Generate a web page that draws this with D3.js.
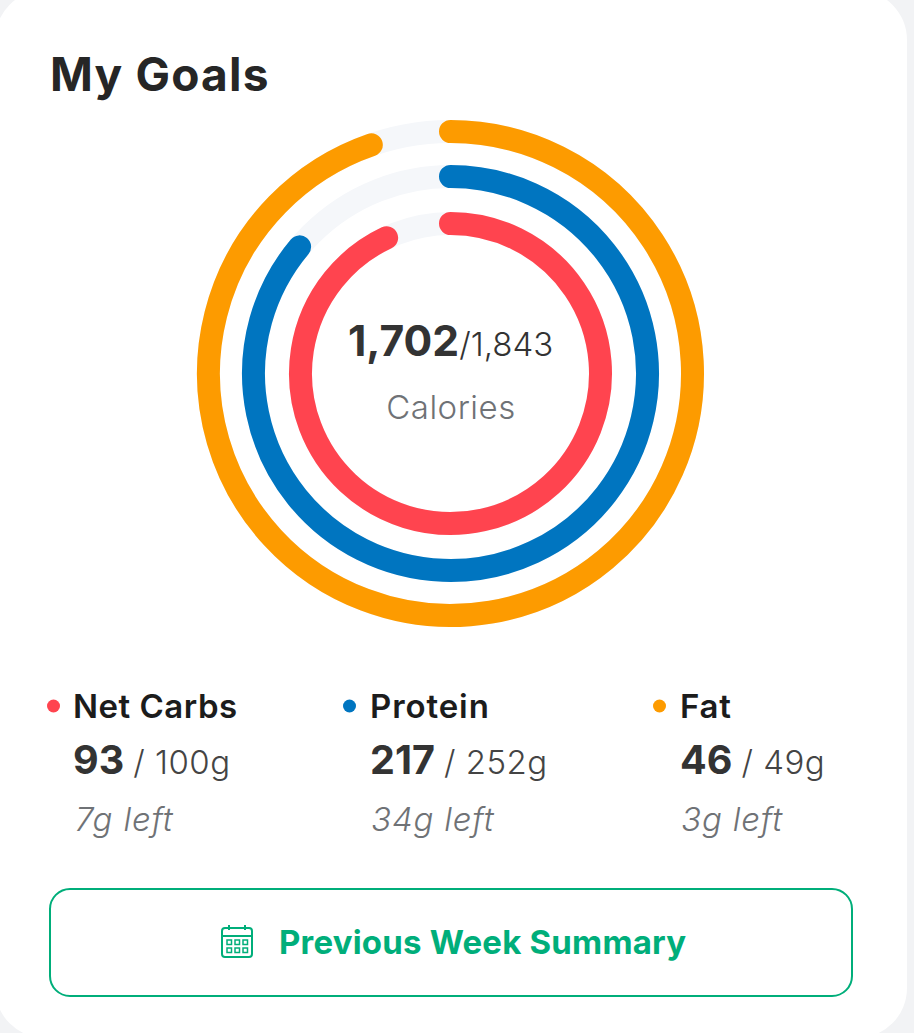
<!DOCTYPE html>
<html><head><meta charset="utf-8">
<script src="https://cdn.jsdelivr.net/npm/d3@7"></script>
<style>html,body{margin:0;padding:0;background:#f2f3f5;overflow:hidden}svg{display:block}</style>
</head><body><svg id="c" width="914" height="1033"></svg>
<script>
const title = "My Goals";
const macros = ["Net Carbs", "Protein", "Fat"];
const consumed = [93, 217, 46];
const ringValues = [93, 217, 46.4];
const goals = [100, 252, 49];
const left = ["7g left", "34g left", "3g left"];
const colors = ["#ff444f", "#0075c0", "#fd9b00"];
const calories = "1,702";
const calorieGoal = "/1,843";
const calorieLabel = "Calories";
const buttonLabel = "Previous Week Summary";

const font = "Inter, sans-serif";
const svg = d3.select("#c");
svg.append("rect").attr("x", -5).attr("y", -10).attr("width", 912).attr("height", 1048).attr("rx", 50).attr("fill", "#fff");

svg.append("text").attr("x", 50).attr("y", 91).attr("font-family", font).attr("font-weight", 700).attr("font-size", 46).attr("letter-spacing", 1.2).attr("fill", "#262626").text(title);

const cx = 450.5, cy = 373.5;
const g = svg.append("g").attr("transform", `translate(${cx},${cy})`);
const radius = d3.scaleOrdinal().domain(macros).range([150, 197, 242]);
const thickness = 23;
macros.forEach((m, i) => {
  const r = radius(m);
  const ang = d3.scaleLinear().domain([0, goals[i]]).range([-Math.PI / 2, 1.5 * Math.PI]);
  g.append("circle").attr("r", r).attr("fill", "none").attr("stroke", "#f5f7fa").attr("stroke-width", thickness);
  const p = d3.path();
  p.arc(0, 0, r, ang(0), ang(ringValues[i]));
  g.append("path").attr("d", p.toString()).attr("fill", "none").attr("stroke", colors[i]).attr("stroke-width", thickness).attr("stroke-linecap", "round");
});

svg.append("text").attr("x", 348).attr("y", 356).attr("font-family", font).attr("fill", "#333")
  .call(t => { t.append("tspan").attr("font-weight", 700).attr("font-size", 42.6).text(calories);
               t.append("tspan").attr("font-size", 33).attr("font-weight", 300).attr("fill", "#333").text(calorieGoal); });
svg.append("text").attr("x", 451).attr("y", 419).attr("text-anchor", "middle").attr("font-family", font).attr("font-size", 33).attr("font-weight", 300).attr("letter-spacing", 0.5).attr("fill", "#6f7276").text(calorieLabel);

const colX = d3.scaleOrdinal().domain(macros).range([74, 370, 680]);
const labelSpacing = [0.5, 0.9, 0.8];
macros.forEach((m, i) => {
  const x = colX(m);
  svg.append("circle").attr("cx", x - 20.5).attr("cy", 706).attr("r", 6.5).attr("fill", colors[i]);
  svg.append("text").attr("x", i ? x : x - 1).attr("y", 718).attr("font-family", font).attr("font-weight", 600).attr("font-size", 33).attr("letter-spacing", labelSpacing[i]).attr("fill", "#1c1c1c").text(m);
  svg.append("text").attr("x", i ? x : x - 1).attr("y", 774).attr("font-family", font).attr("fill", "#444")
    .call(t => { t.append("tspan").attr("font-weight", 700).attr("font-size", 39.5).attr("fill", "#333").text(consumed[i]);
                 t.append("tspan").attr("font-size", 33).attr("font-weight", 300).attr("letter-spacing", 0.5).attr("dx", 9).text(`/ ${goals[i]}g`); });
  svg.append("text").attr("x", x + 1).attr("y", 831).attr("font-family", font).attr("font-style", "italic").attr("font-weight", 300).attr("font-size", 33).attr("letter-spacing", 0.8).attr("fill", "#6f7276").text(left[i]);
});

const green = "#00ae7a";
svg.append("rect").attr("x", 50).attr("y", 889).attr("width", 802).attr("height", 107).attr("rx", 20).attr("fill", "#fff").attr("stroke", green).attr("stroke-width", 2);
const ic = svg.append("g").attr("transform", "translate(221,926)").attr("fill", "none").attr("stroke", green).attr("stroke-width", 2);
ic.append("rect").attr("x", 1).attr("y", 2).attr("width", 30).attr("height", 29).attr("rx", 3);
ic.append("path").attr("d", "M1 10H31M8 -1V4M24 -1V4");
[0,1].forEach(r => [0,1,2].forEach(c => ic.append("rect").attr("x", 6 + c * 8).attr("y", 14 + r * 8).attr("width", 4.5).attr("height", 4.5).attr("stroke-width", 1.5)));
svg.append("text").attr("x", 279).attr("y", 954).attr("font-family", font).attr("font-weight", 700).attr("font-size", 33).attr("letter-spacing", 0.2).attr("fill", green).text(buttonLabel);
</script></body></html>
